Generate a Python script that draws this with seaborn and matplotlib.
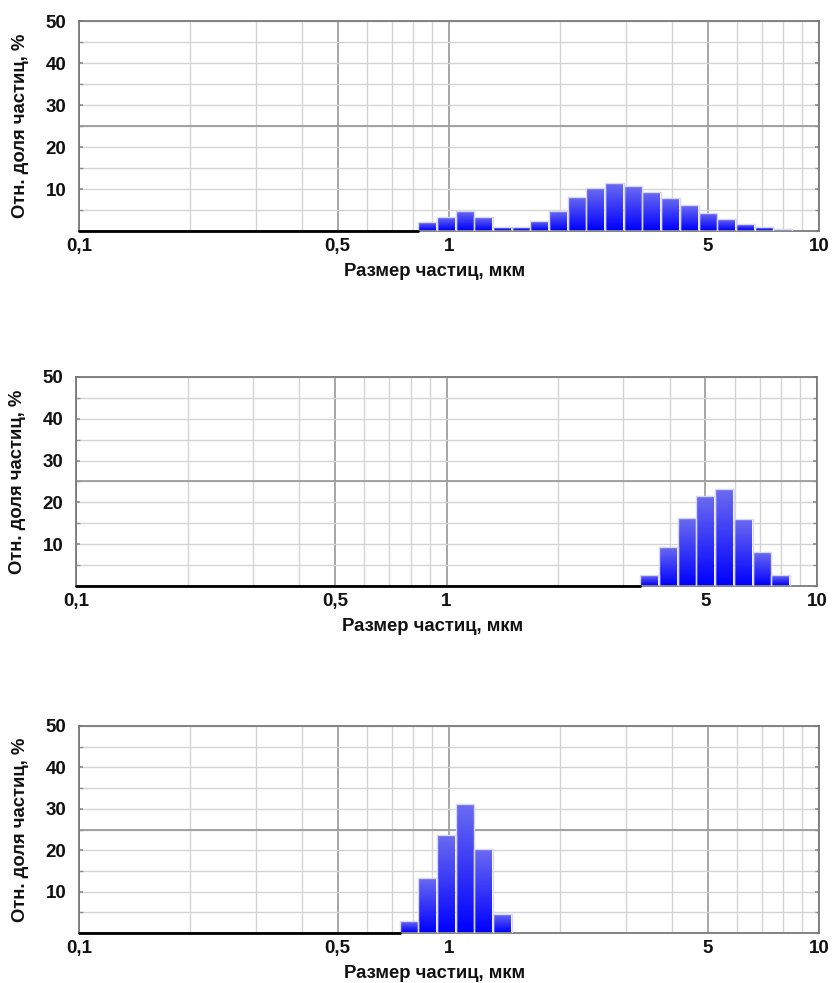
import numpy as np
import matplotlib
matplotlib.use("Agg")
from matplotlib import pyplot as plt
from matplotlib.colors import LinearSegmentedColormap
from matplotlib.ticker import FixedLocator, FixedFormatter, LogLocator, MultipleLocator, NullFormatter
import seaborn as sns

# size class boundaries of the analyser, um (log spaced channels)
size_edges = [0.736, 0.826, 0.928, 1.042, 1.171, 1.315, 1.477, 1.660, 1.864, 2.094, 2.352,
              2.642, 2.968, 3.334, 3.745, 4.207, 4.726, 5.309, 5.963, 6.699, 7.525, 8.453]

# relative share of particles in each size class, %
sample_top = [0.0, 2.1, 3.3, 4.8, 3.3, 1.0, 1.0, 2.4, 4.8, 8.2, 10.2,
              11.4, 10.7, 9.3, 7.9, 6.1, 4.4, 2.9, 1.7, 0.9, 0.5]
sample_mid = [0.0, 0.0, 0.0, 0.0, 0.0, 0.0, 0.0, 0.0, 0.0, 0.0, 0.0,
              0.0, 0.0, 2.6, 9.4, 16.3, 21.6, 23.2, 16.1, 8.1, 2.6]
sample_bot = [2.8, 13.4, 23.7, 31.2, 20.4, 4.6, 0.0, 0.0, 0.0, 0.0, 0.0,
              0.0, 0.0, 0.0, 0.0, 0.0, 0.0, 0.0, 0.0, 0.0, 0.0]

size_min = 0.1
size_max = 10
x_ticks = [0.1, 0.5, 1, 5, 10]
x_tick_labels = ["0,1", "0,5", "1", "5", "10"]
y_ticks = [10, 20, 30, 40, 50]

xlabel = "Размер частиц, мкм"
ylabel = "Отн. доля частиц, %"

sns.set_theme(style="white")
plt.rcParams['font.family'] = ['Liberation Sans', 'DejaVu Sans']
plt.rcParams['text.color'] = '#111111'
plt.rcParams['axes.labelcolor'] = '#111111'

fig = plt.figure(figsize=(8.34, 9.83), dpi=100)

# [left, bottom, width, height] in figure fraction
positions = [
    [79 / 834, 1 - 231 / 983, 740 / 834, 210 / 983],
    [76 / 834, 1 - 586 / 983, 741 / 834, 209 / 983],
    [79 / 834, 1 - 933 / 983, 740 / 834, 207 / 983],
]

edges = np.array(size_edges)
centers = np.sqrt(edges[:-1] * edges[1:])
log_bins = [float(v) for v in np.log10(edges)]
bar_cmap = LinearSegmentedColormap.from_list("bar", ["#0000ff", "#6b6bf0"])
grad = np.linspace(0, 1, 64).reshape(-1, 1)

for pos, values in zip(positions, [sample_top, sample_mid, sample_bot]):
    ax = fig.add_axes(pos)
    values = np.array(values)

    sns.histplot(x=centers, weights=values, bins=log_bins, log_scale=True,
                 ax=ax, color="#0000ff", edgecolor="#d6d6f6", linewidth=1.0, alpha=1)

    # vertical gradient inside each bar
    for p in list(ax.patches):
        if p.get_height() <= 0:
            p.set_visible(False)
            continue
        x0, w, h = p.get_x(), p.get_width(), p.get_height()
        im = ax.imshow(grad, cmap=bar_cmap, extent=(x0, x0 + w, 0, h), origin="lower",
                       aspect="auto", interpolation="bicubic", zorder=2)
        im.set_clip_path(p)
        p.set_facecolor("none")
        p.set_zorder(3)

    # zero line up to the first filled class
    first = edges[np.nonzero(values)[0][0]]
    sns.lineplot(x=[size_min, first], y=[0, 0], color="black", linewidth=2.0,
                 ax=ax, clip_on=False, zorder=4)

    ax.set_xscale("log")
    ax.set_xlim(size_min, size_max)
    ax.set_ylim(0, 50)

    ax.xaxis.set_major_locator(FixedLocator(x_ticks))
    ax.xaxis.set_major_formatter(FixedFormatter(x_tick_labels))
    ax.xaxis.set_minor_locator(LogLocator(base=10, subs=np.arange(2, 10), numticks=20))
    ax.xaxis.set_minor_formatter(NullFormatter())
    ax.yaxis.set_major_locator(FixedLocator(y_ticks))
    ax.yaxis.set_minor_locator(MultipleLocator(5))

    ax.set_axisbelow(True)
    ax.grid(which="minor", color="#d4d4d4", linewidth=1.0)
    ax.grid(which="major", axis="y", color="#d4d4d4", linewidth=1.0)
    ax.grid(which="major", axis="x", color="#979797", linewidth=1.2)
    ax.axhline(25, color="#979797", linewidth=1.2, zorder=1)

    ax.tick_params(axis="x", which="both", length=0, pad=5, labelsize=13.5,
                   labelcolor="#111111")
    ax.tick_params(axis="y", which="both", direction="in", length=3, color="#909090",
                   left=True, right=True, pad=9, labelsize=13.5, labelcolor="#111111")
    for lab in ax.get_xticklabels() + ax.get_yticklabels():
        lab.set_fontweight("bold")

    for side, spine in ax.spines.items():
        spine.set_color("#7a7a7a")
        spine.set_linewidth(1.3)

    ax.set_xlabel(xlabel, fontsize=13.3, fontweight="bold", labelpad=6)
    ax.xaxis.label.set_x(0.481)
    ax.set_ylabel(ylabel, fontsize=13.3, fontweight="bold", labelpad=12)

fig.savefig("out.png", dpi=100, facecolor="white")
